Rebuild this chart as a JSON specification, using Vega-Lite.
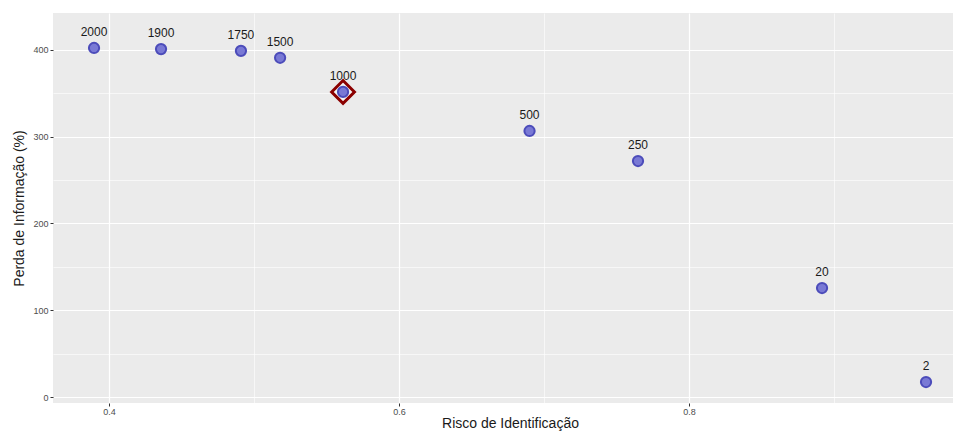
{
  "$schema": "https://vega.github.io/schema/vega-lite/v6.json",
  "width": 900,
  "height": 390,
  "autosize": {"type": "none"},
  "padding": {"left": 53, "top": 13, "right": 1, "bottom": 28},
  "background": "white",
  "config": {
    "view": {"fill": "#ebebeb", "stroke": null},
    "font": "Liberation Sans"
  },
  "data": {
    "values": [
      {"risco": 0.3897, "perda": 402.3, "k": "2000", "sel": false},
      {"risco": 0.4359, "perda": 401.0, "k": "1900", "sel": false},
      {"risco": 0.491, "perda": 399.0, "k": "1750", "sel": false},
      {"risco": 0.518, "perda": 391.0, "k": "1500", "sel": false},
      {"risco": 0.5614, "perda": 351.6, "k": "1000", "sel": true},
      {"risco": 0.690, "perda": 306.6, "k": "500", "sel": false},
      {"risco": 0.7648, "perda": 272.0, "k": "250", "sel": false},
      {"risco": 0.8917, "perda": 125.6, "k": "20", "sel": false},
      {"risco": 0.9634, "perda": 17.3, "k": "2", "sel": false}
    ]
  },
  "resolve": {"axis": {"x": "independent", "y": "independent"}},
  "layer": [
    {
      "mark": {"type": "point", "opacity": 0},
      "encoding": {
        "x": {"field": "risco", "type": "quantitative", "scale": {"domain": [0.3614, 0.982], "nice": false, "zero": false},
          "axis": {"orient": "top", "values": [0.5, 0.7, 0.9], "labels": false, "ticks": false, "domain": false, "title": null, "grid": true, "gridColor": "#ffffff", "gridWidth": 0.6}},
        "y": {"field": "perda", "type": "quantitative", "scale": {"domain": [-6.9, 442.6], "nice": false, "zero": false},
          "axis": {"orient": "right", "values": [50, 150, 250, 350], "labels": false, "ticks": false, "domain": false, "title": null, "grid": true, "gridColor": "#ffffff", "gridWidth": 0.6}}
      }
    },
    {
      "mark": {"type": "point", "opacity": 0},
      "encoding": {
        "x": {"field": "risco", "type": "quantitative", "scale": {"domain": [0.3614, 0.982], "nice": false, "zero": false},
          "axis": {"orient": "bottom", "values": [0.4, 0.6, 0.8], "format": ".1f", "title": "Risco de Identificação", "titleX": 457, "titleFontSize": 14, "titleFontWeight": "normal", "titleColor": "#1a1a1a", "titlePadding": 0, "labelFontSize": 9, "labelColor": "#4d4d4d", "labelPadding": 1, "tickColor": "#333333", "tickSize": 3, "domain": false, "grid": true, "gridColor": "#ffffff", "gridWidth": 1.2}},
        "y": {"field": "perda", "type": "quantitative", "scale": {"domain": [-6.9, 442.6], "nice": false, "zero": false},
          "axis": {"orient": "left", "values": [0, 100, 200, 300, 400], "title": "Perda de Informação (%)", "titleFontSize": 14, "titleFontWeight": "normal", "titleColor": "#1a1a1a", "titlePadding": 6, "labelFontSize": 9, "labelColor": "#4d4d4d", "labelPadding": 2, "tickColor": "#333333", "tickSize": 3, "domain": false, "grid": true, "gridColor": "#ffffff", "gridWidth": 1.2}}
      }
    },
    {
      "transform": [{"filter": "datum.sel"}],
      "mark": {"type": "point", "shape": "diamond", "size": 520, "filled": false, "fill": "#f4f4f4", "fillOpacity": 1, "stroke": "#8b0000", "strokeWidth": 3},
      "encoding": {
        "x": {"field": "risco", "type": "quantitative", "axis": null},
        "y": {"field": "perda", "type": "quantitative", "axis": null}
      }
    },
    {
      "mark": {"type": "point", "shape": "circle", "size": 105, "filled": false, "fill": "#7373d4", "fillOpacity": 1, "stroke": "#4444b8", "strokeWidth": 2, "opacity": 0.95},
      "encoding": {
        "x": {"field": "risco", "type": "quantitative", "axis": null},
        "y": {"field": "perda", "type": "quantitative", "axis": null}
      }
    },
    {
      "mark": {"type": "text", "dy": -16, "fontSize": 12, "color": "#1a1a1a"},
      "encoding": {
        "x": {"field": "risco", "type": "quantitative", "axis": null},
        "y": {"field": "perda", "type": "quantitative", "axis": null},
        "text": {"field": "k"}
      }
    }
  ]
}
